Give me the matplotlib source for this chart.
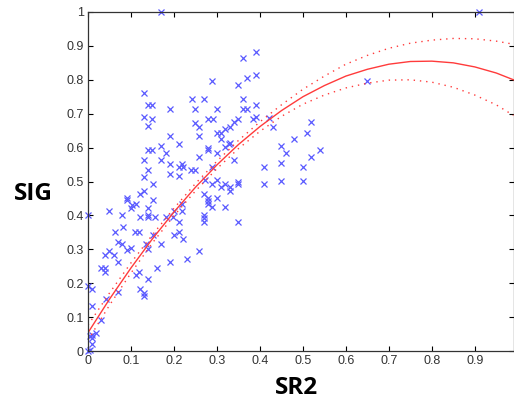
import numpy as np
import matplotlib
matplotlib.use('Agg')
import matplotlib.pyplot as plt

# SR2 / SIG samples
sr2 = np.array([
    0.169, 0.909, 0.65,
    0.391, 0.361, 0.391, 0.369, 0.289, 0.35,
    0.131, 0.241, 0.271, 0.361,
    0.140, 0.150, 0.391,
    0.190, 0.25, 0.30, 0.361, 0.37,
    0.131, 0.150, 0.391, 0.383, 0.28, 0.29, 0.35, 0.421,
    0.25, 0.259, 0.14, 0.34, 0.33, 0.43, 0.52,
    0.319, 0.309, 0.30, 0.51,
    0.19, 0.259, 0.309, 0.48,
    0.33, 0.212, 0.319, 0.17, 0.45, 0.28, 0.329,
    0.14, 0.15, 0.28, 0.54,
    0.181, 0.30, 0.46,
    0.259, 0.52,
    0.13, 0.17, 0.34,
    0.191, 0.219, 0.45,
    0.212, 0.221, 0.289, 0.409, 0.50,
    0.14, 0.24, 0.25,
    0.191, 0.212, 0.13,
    0.272, 0.30, 0.35, 0.45, 0.50,
    0.151, 0.289, 0.319, 0.35, 0.409,
    0.309, 0.33,
    0.13, 0.33,
    0.122, 0.27,
    0.091, 0.28, 0.30,
    0.091, 0.151, 0.28,
    0.103, 0.111, 0.219, 0.28,
    0.10, 0.14, 0.289, 0.319,
    0.049, 0.20, 0.219,
    0.0, 0.08, 0.14, 0.27,
    0.121, 0.14, 0.157, 0.181, 0.198, 0.27,
    0.212, 0.27, 0.35,
    0.082,
    0.062, 0.109, 0.119, 0.212,
    0.152, 0.20,
    0.221,
    0.07, 0.08, 0.134, 0.17, 0.09, 0.14,
    0.099,
    0.258, 0.049,
    0.04, 0.06,
    0.23,
    0.07, 0.191,
    0.031, 0.04, 0.16,
    0.04, 0.119,
    0.111, 0.14,
    0.0, 0.01, 0.121,
    0.07, 0.13, 0.13,
    0.041,
    0.01,
    0.031,
    0.019, 0.01, 0.005, 0.01,
    0.01, 0.005, 0.0,
])
sig = np.array([
    1.0, 1.0, 0.795,
    0.883, 0.865, 0.814, 0.804, 0.795, 0.784,
    0.762, 0.744, 0.744, 0.744,
    0.725, 0.725, 0.725,
    0.713, 0.713, 0.713, 0.713, 0.713,
    0.691, 0.683, 0.691, 0.683, 0.683, 0.683, 0.683, 0.688,
    0.674, 0.662, 0.663, 0.675, 0.662, 0.662, 0.675,
    0.654, 0.642, 0.642, 0.642,
    0.634, 0.634, 0.626, 0.624,
    0.614, 0.612, 0.603, 0.604, 0.604, 0.60, 0.612,
    0.592, 0.592, 0.592, 0.592,
    0.583, 0.584, 0.583,
    0.573, 0.573,
    0.563, 0.563, 0.563,
    0.553, 0.553, 0.554,
    0.542, 0.542, 0.543, 0.543, 0.543,
    0.533, 0.533, 0.533,
    0.522, 0.516, 0.513,
    0.503, 0.503, 0.50, 0.502, 0.502,
    0.493, 0.493, 0.493, 0.493, 0.493,
    0.483, 0.483,
    0.473, 0.471,
    0.463, 0.463,
    0.452, 0.452, 0.452,
    0.444, 0.444, 0.442,
    0.432, 0.434, 0.434, 0.434,
    0.422, 0.422, 0.424, 0.424,
    0.414, 0.412, 0.414,
    0.402, 0.402, 0.402, 0.402,
    0.394, 0.394, 0.394, 0.394, 0.394, 0.392,
    0.38, 0.38, 0.38,
    0.365,
    0.351, 0.351, 0.351, 0.351,
    0.343, 0.343,
    0.33,
    0.323, 0.316, 0.316, 0.316, 0.299, 0.302,
    0.304,
    0.294, 0.294,
    0.282, 0.282,
    0.272,
    0.262, 0.262,
    0.246, 0.246, 0.245,
    0.233, 0.233,
    0.223, 0.213,
    0.192, 0.183, 0.183,
    0.173, 0.17, 0.161,
    0.154,
    0.133,
    0.092,
    0.054, 0.047, 0.044, 0.037,
    0.022, 0.003, 0.0,
])

# fitted curve and its dotted bounds
fit_x = [0.0, 0.05, 0.1, 0.15, 0.2, 0.25, 0.3, 0.35, 0.4, 0.45, 0.5,
         0.55, 0.6, 0.65, 0.7, 0.75, 0.8, 0.85, 0.9, 0.95, 0.99]
fit_y = [0.054, 0.153, 0.245, 0.331, 0.410, 0.483, 0.549, 0.609, 0.662, 0.709, 0.750,
         0.783, 0.811, 0.831, 0.846, 0.854, 0.855, 0.850, 0.838, 0.820, 0.800]
upper_y = [0.076, 0.171, 0.260, 0.343, 0.421, 0.494, 0.560, 0.621, 0.676, 0.726, 0.772,
           0.811, 0.846, 0.872, 0.893, 0.908, 0.917, 0.922, 0.921, 0.914, 0.905]
lower_y = [0.032, 0.135, 0.230, 0.319, 0.399, 0.472, 0.538, 0.597, 0.648, 0.692, 0.728,
           0.755, 0.776, 0.790, 0.799, 0.800, 0.793, 0.778, 0.755, 0.726, 0.695]

fig = plt.figure(figsize=(5.14, 4.04), dpi=100)
ax = fig.add_axes([88/514, 53/404, 425.5/514, 339/404])

ax.plot(sr2, sig, 'x', color='#5a5aff', markersize=4.5, markeredgewidth=0.9, clip_on=False)
ax.plot(fit_x, fit_y, color='#ff3b3b', lw=1.0)
ax.plot(fit_x, upper_y, color='#ff3b3b', lw=1.0, ls=(0, (1, 3.5)))
ax.plot(fit_x, lower_y, color='#ff3b3b', lw=1.0, ls=(0, (1, 3.5)))

ax.set_xlim(0, 0.99)
ax.set_ylim(0, 1)
ax.set_xticks(np.arange(0, 1.0, 0.1))
ax.set_xticklabels(['0', '0.1', '0.2', '0.3', '0.4', '0.5', '0.6', '0.7', '0.8', '0.9'])
ax.set_yticks(np.arange(0, 1.01, 0.1))
ax.set_yticklabels(['0', '0.1', '0.2', '0.3', '0.4', '0.5', '0.6', '0.7', '0.8', '0.9', '1'])

ax.tick_params(axis='both', direction='in', length=3.5, width=0.8, labelsize=9,
               labelcolor='#333333', top=True, right=True, pad=3)
for lbl in ax.get_xticklabels() + ax.get_yticklabels():
    lbl.set_family('Liberation Sans')
for sp in ax.spines.values():
    sp.set_linewidth(0.9)
    sp.set_color('#333333')

fig.text(297/514, 1 - 388/404, 'SR2', fontsize=17.5, fontweight='bold', family='Open Sans',
         ha='center', va='center')
fig.text(33.5/514, 1 - 193.5/404, 'SIG', fontsize=17.5, fontweight='bold', family='Open Sans',
         ha='center', va='center')

plt.savefig('out.png', dpi=100)
